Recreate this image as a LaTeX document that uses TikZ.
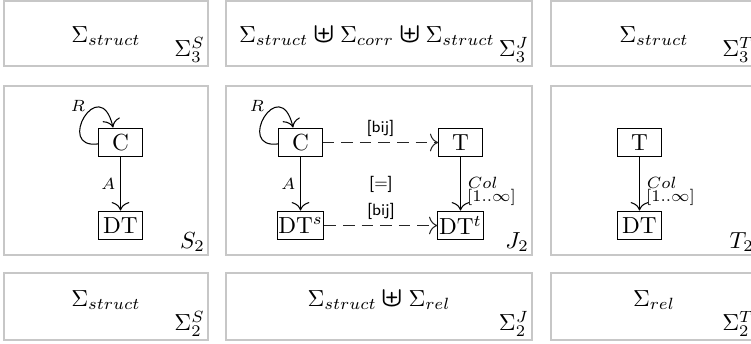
\documentclass[tikz,border=0pt]{standalone}
\usepackage{amsmath,amssymb,graphicx}
\usetikzlibrary{arrows.meta}
\newcommand{\djunion}{\mathbin{\raisebox{-0.2pt}{\scalebox{1.2}{$\boldsymbol{\uplus}$}}}}
\begin{document}
\begin{tikzpicture}[x=0.43pt,y=-0.43pt,
  panel/.style={draw=black!22, line width=0.6pt},
  entity/.style={draw, line width=0.45pt, minimum width=18.6pt, minimum height=12.4pt, inner sep=0.5pt},
  edge/.style={-{To[scale=1.4]}, line width=0.45pt},
  corr/.style={edge, draw=black!85, dash pattern=on 5pt off 3pt},
  lbl/.style={font=\scriptsize, inner sep=1pt},
  card/.style={font=\sffamily\scriptsize, inner sep=1pt},
  tag/.style={anchor=south east, inner sep=1.2pt}]

\useasboundingbox (0,0) rectangle (751,344);

% ---- signature panels (top row) ----
\draw[panel] (4,1) rectangle (208,66);
\draw[panel] (226,1) rectangle (532,66);
\draw[panel] (551,1) rectangle (757,66);
\node (s3S) at (106,36) {$\Sigma_{struct}$};
\node (s3J) at (367,36) {$\Sigma_{struct}\djunion\Sigma_{corr}\djunion\Sigma_{struct}$};
\node (s3T) at (654,36) {$\Sigma_{struct}$};
\node[tag] (g3S) at (208,66) {$\Sigma_3^S$};
\node[tag] (g3J) at (532,66) {$\Sigma_3^J$};
\node[tag] (g3T) at (757,66) {$\Sigma_3^T$};

% ---- schema panels (middle row) ----
\draw[panel] (4,86) rectangle (208,255);
\draw[panel] (226,86) rectangle (532,255);
\draw[panel] (551,86) rectangle (757,255);

% source schema
\node[entity] (sC) at (120.5,142.5) {C};
\node[entity] (sDT) at (120.5,225.5) {DT};
\draw[edge] ([yshift=-0.6pt]sC.west) .. controls +(-44,6) and +(-13,-56) .. ([xshift=-3.2pt]sC.north);
\node[lbl] (sR) at (78,106) {$R$};
\draw[edge] (sC) -- node[lbl, left=1pt] (sA) {$A$} (sDT);
\node[tag] (gS2) at (208,255) {$S_2$};

% joint schema
\node[entity] (jC) at (300.5,142.5) {C};
\node[entity] (jDT) at (300.5,225.5) {DT$^s$};
\node[entity] (jT) at (460.5,142.5) {T};
\node[entity] (jDTt) at (460.5,225.5) {DT$^t$};
\draw[edge] ([yshift=-0.6pt]jC.west) .. controls +(-44,6) and +(-13,-56) .. ([xshift=-3.2pt]jC.north);
\node[lbl] (jR) at (257,106) {$R$};
\draw[edge] (jC) -- node[lbl, left=1pt] (jA) {$A$} (jDT);
\draw[corr] (jC) -- node[card, above=1.5pt] (jb1) {[bij]} (jT);
\draw[corr] (jDT) -- node[card, above=1.5pt] (jb2) {[bij]} (jDTt);
\node[card] (jeq) at (381,184) {[=]};
\draw[edge] (jT) -- coordinate[pos=0.62] (jm) (jDTt);
\node[lbl, anchor=west, inner sep=0pt] (jcol) at ([xshift=3pt,yshift=3.3pt]jm) {$Col$};
\node[lbl, anchor=west, inner sep=0pt] (jcard) at ([xshift=2.6pt,yshift=-3.2pt]jm) {[1..$\infty$]};
\node[tag] (gJ2) at (532,255) {$J_2$};

% target schema
\node[entity] (tT) at (639.5,142.5) {T};
\node[entity] (tDT) at (639.5,225.5) {DT};
\draw[edge] (tT) -- coordinate[pos=0.62] (tm) (tDT);
\node[lbl, anchor=west, inner sep=0pt] (tcol) at ([xshift=3pt,yshift=3.3pt]tm) {$Col$};
\node[lbl, anchor=west, inner sep=0pt] (tcard) at ([xshift=2.6pt,yshift=-3.2pt]tm) {[1..$\infty$]};
\node[tag] (gT2) at (757,255) {$T_2$};

% ---- signature panels (bottom row) ----
\draw[panel] (4,273) rectangle (208,340);
\draw[panel] (226,273) rectangle (532,340);
\draw[panel] (551,273) rectangle (757,340);
\node (s2S) at (106,300) {$\Sigma_{struct}$};
\node (s2J) at (379,300) {$\Sigma_{struct}\djunion\Sigma_{rel}$};
\node (s2T) at (654,300) {$\Sigma_{rel}$};
\node[tag] (g2S) at (208,340) {$\Sigma_2^S$};
\node[tag] (g2J) at (532,340) {$\Sigma_2^J$};
\node[tag] (g2T) at (757,340) {$\Sigma_2^T$};
\end{tikzpicture}
\end{document}
